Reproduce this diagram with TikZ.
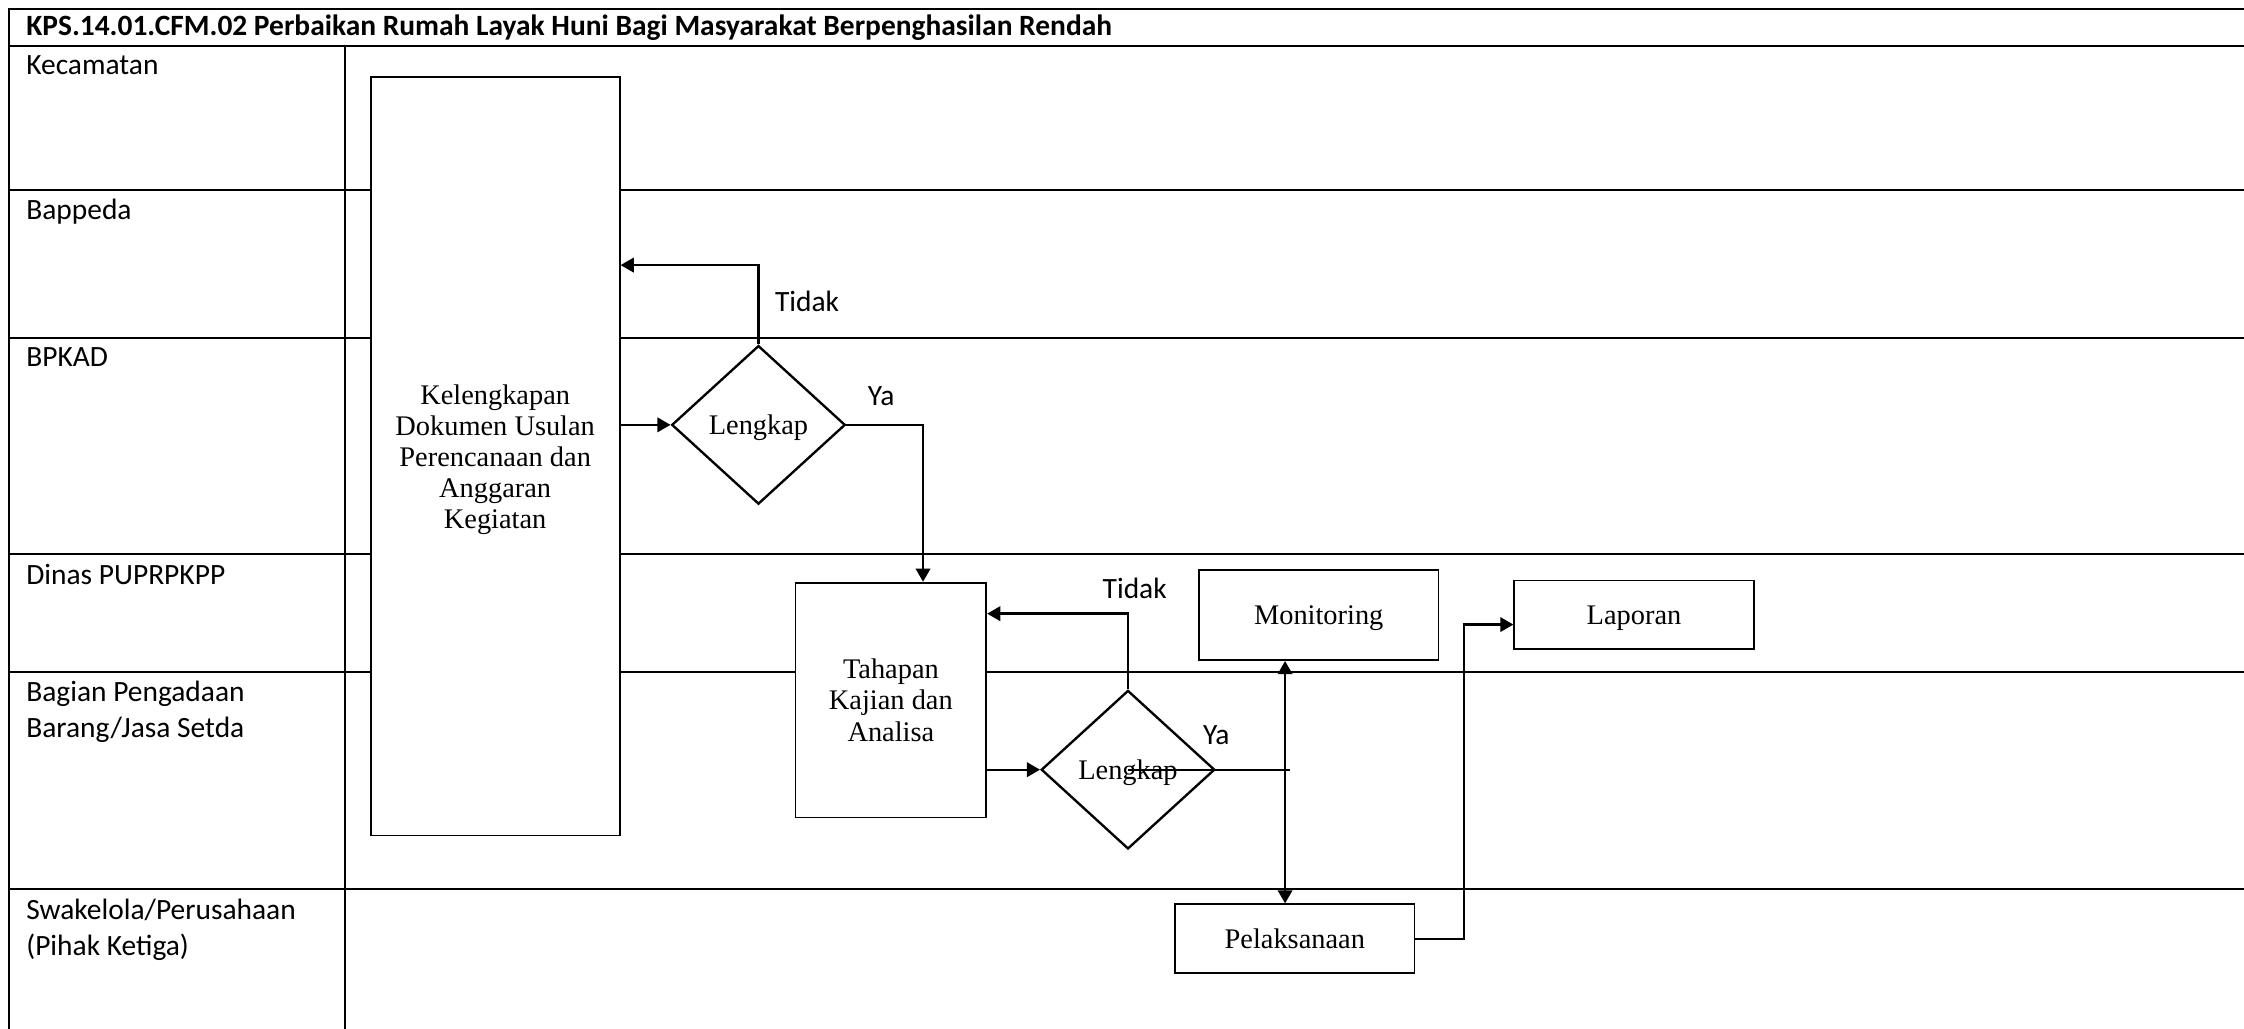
\documentclass[tikz,border=0pt]{standalone}
\usepackage{fontspec}
\setmainfont{Liberation Serif}
\newfontfamily\lanefont{Carlito}
\usetikzlibrary{arrows.meta, positioning, shapes.geometric, calc}
\tikzset{
  arrowK/.style={-{Triangle[length=5pt,width=5.5pt]}, black, line width=0.9pt},
  arrowKK/.style={{Triangle[length=5pt,width=5.5pt]}-{Triangle[length=5pt,width=5.5pt]}, black, line width=0.9pt},
  lineK/.style={black, line width=0.9pt},
  laneLine/.style={black, line width=0.8pt},
  laneLbl/.style={anchor=north west, inner sep=0pt, align=left},
  ynLbl/.style={inner sep=0pt},
  boxP/.style={rectangle, draw, fill=white, line width=0.7pt, align=center,
               inner sep=2pt, text depth=0pt, font=\rmfamily\fontsize{10.8}{11.8}\selectfont},
  boxD/.style={diamond, draw, fill=white, line width=0.9pt, inner sep=0pt, text depth=0pt,
               minimum width=2.32cm, minimum height=2.12cm,
               font=\rmfamily\fontsize{10.8}{11.8}\selectfont},
}
\begin{document}
\begin{tikzpicture}[font=\lanefont\fontsize{11.2}{13.6}\selectfont]
  \useasboundingbox (0,0) rectangle (30,-13.756);
  % frame and title
  \draw[laneLine] (0.115,-13.756) -- (0.115,-0.115) -- (30,-0.115);
  \draw[laneLine] (4.61,-0.615) -- (4.61,-13.756);
  \node[anchor=base west, inner sep=0pt, font=\lanefont\bfseries\fontsize{11.2}{13.6}\selectfont]
    (judul) at (0.345,-0.478)
    {KPS.14.01.CFM.02 Perbaikan Rumah Layak Huni Bagi Masyarakat Berpenghasilan Rendah};
  % swimlanes
  \foreach \t/\lbl [count=\i] in {0.615/Kecamatan, 2.54/Bappeda, 4.52/BPKAD,
      7.41/Dinas PUPRPKPP, 8.98/{Bagian Pengadaan\\Barang/Jasa Setda},
      11.89/{Swakelola/Perusahaan\\(Pihak Ketiga)}} {
    \draw[laneLine] (0.115,-\t) -- (30,-\t);
    \node[laneLbl] (lane\i) at (0.345,-\t-0.12) {\lbl};
  }
  % process
  \node[boxP, minimum width=3.33cm, minimum height=10.14cm] (kel) at (6.62,-6.10)
    {Kelengkapan\\Dokumen Usulan\\Perencanaan dan\\Anggaran\\Kegiatan};
  \node[boxD] (d1) at (10.14,-5.68) {Lengkap};
  \node[boxP, minimum width=2.55cm, minimum height=3.14cm] (tah) at (11.91,-9.36)
    {Tahapan\\Kajian dan\\Analisa};
  \node[boxD] (d2) at (15.08,-10.29) {Lengkap};
  \node[boxP, minimum width=3.20cm, minimum height=1.21cm] (mon) at (17.63,-8.22) {Monitoring};
  \node[boxP, minimum width=3.20cm, minimum height=0.92cm, right=0.99cm of mon] (lap) {Laporan};
  \node[boxP, minimum width=3.20cm, minimum height=0.92cm] (pel) at (17.31,-12.55) {Pelaksanaan};

  \draw[arrowK] (kel.east |- d1.west) -- (d1.west);
  \draw[arrowK] (d1.north) -- ++(0,1.06) coordinate (t1) -- (t1 -| kel.east);
  \draw[arrowK] (d1.east) -| ([xshift=0.43cm]tah.north);
  \draw[arrowK] (tah.east |- d2.west) -- (d2.west);
  \draw[arrowK] (d2.north) -- ++(0,1.01) coordinate (t2) -- (t2 -| tah.east);
  \coordinate (yaEnd) at (17.24,-10.29);
  \coordinate (vx) at (17.18,-10.29);
  \draw[lineK] (d2.center) -- (yaEnd);
  \draw[arrowKK] (mon.south -| vx) -- (pel.north -| vx);
  \draw[arrowK] (pel.east) -- ++(0.65,0) |- ([yshift=-0.13cm]lap.west);

  \node[ynLbl] (tidak1) at (10.79,-4.03) {Tidak};
  \node[ynLbl] (ya1) at (11.78,-5.30) {Ya};
  \node[ynLbl] (tidak2) at (15.17,-7.87) {Tidak};
  \node[ynLbl] (ya2) at (16.26,-9.83) {Ya};
\end{tikzpicture}
\end{document}
